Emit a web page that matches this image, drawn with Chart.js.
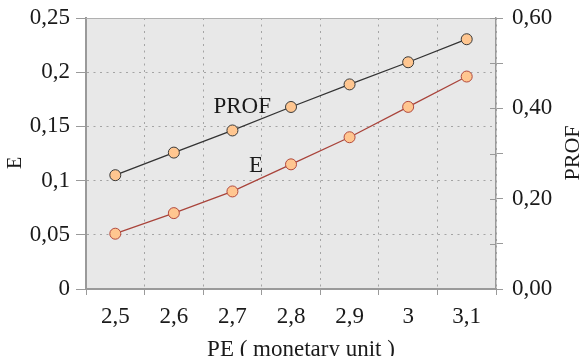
<!DOCTYPE html>
<html><head><meta charset="utf-8">
<script src="https://cdn.jsdelivr.net/npm/chart.js@4"></script>
<style>html,body{margin:0;padding:0;background:#fff;}#wrap{width:583px;height:356px;}</style>
</head><body><div id="wrap"><canvas id="c" width="583" height="356"></canvas></div>
<script>
const categories = ['2,5','2,6','2,7','2,8','2,9','3','3,1'];
const eValues = [0.051, 0.070, 0.090, 0.115, 0.140, 0.168, 0.196];
const profValues = [0.252, 0.302, 0.351, 0.403, 0.453, 0.502, 0.553];
const leftTickLabels = ['0','0,05','0,1','0,15','0,2','0,25'];
const rightTickLabels = ['0,00','','0,20','','0,40','','0,60'];
const xTitle = 'PE ( monetary unit )';
const leftTitle = 'E';
const rightTitle = 'PROF';
const seriesNames = ['E', 'PROF'];

const FONT = '"Liberation Serif", "Times New Roman", serif';
const TXT = '#1a1a1a';
const AXIS = '#9a9a9a';
const GRID = '#a4a4a4';

function noPad(s) { s.paddingTop = 0; s.paddingBottom = 0; s.paddingLeft = 0; s.paddingRight = 0; }

const decor = {
  id: 'decor',
  beforeDraw(chart) {
    const a = chart.chartArea, ctx = chart.ctx;
    ctx.save();
    ctx.fillStyle = '#e8e8e8';
    ctx.fillRect(a.left, a.top, a.right - a.left, a.bottom - a.top);
    ctx.restore();
  },
  afterDraw(chart) {
    const a = chart.chartArea, ctx = chart.ctx;
    ctx.save();
    ctx.strokeStyle = '#b0b0b0';
    ctx.lineWidth = 1;
    ctx.beginPath();
    ctx.moveTo(a.left, a.top + 0.5); ctx.lineTo(a.right, a.top + 0.5);
    ctx.stroke();
    const y1 = chart.scales.y1;
    ctx.strokeStyle = AXIS; ctx.lineWidth = 1;
    y1.ticks.forEach(t => {
      const py = Math.round(y1.getPixelForValue(t.value)) + 0.5;
      ctx.beginPath(); ctx.moveTo(a.right - 6, py); ctx.lineTo(a.right, py); ctx.stroke();
    });
    ctx.fillStyle = TXT;
    ctx.font = '23px ' + FONT;
    ctx.textAlign = 'center'; ctx.textBaseline = 'alphabetic';
    ctx.fillText(xTitle, (a.left + a.right) / 2 + 10, 356);
    ctx.save();
    ctx.font = '20px ' + FONT;
    ctx.translate(16, 163); ctx.rotate(-Math.PI / 2);
    ctx.textBaseline = 'middle';
    ctx.fillText(leftTitle, 0, 0);
    ctx.restore();
    ctx.save();
    ctx.font = '22px ' + FONT;
    ctx.translate(573, 153); ctx.rotate(-Math.PI / 2);
    ctx.textBaseline = 'middle';
    ctx.fillText(rightTitle, 0, 0);
    ctx.restore();
    const x = chart.scales.x, y = chart.scales.y;
    ctx.font = '23px ' + FONT;
    ctx.textAlign = 'right'; ctx.textBaseline = 'middle';
    ctx.fillText(seriesNames[1], x.getPixelForValue(3) - 20, y1.getPixelForValue(profValues[3]));
    ctx.fillText(seriesNames[0], x.getPixelForValue(3) - 28, y.getPixelForValue(eValues[3]) + 2);
    ctx.restore();
  }
};

new Chart(document.getElementById('c'), {
  type: 'line',
  data: {
    labels: categories,
    datasets: [
      { label: seriesNames[0], data: eValues, yAxisID: 'y',
        borderColor: '#a9443b', borderWidth: 1.3, tension: 0,
        pointRadius: 5.5, pointBorderWidth: 1, pointBackgroundColor: '#ffc690', pointBorderColor: '#b34a3e' },
      { label: seriesNames[1], data: profValues, yAxisID: 'y1',
        borderColor: '#333333', borderWidth: 1.3, tension: 0,
        pointRadius: 5.5, pointBorderWidth: 1, pointBackgroundColor: '#ffc690', pointBorderColor: '#3a3a3a' }
    ]
  },
  options: {
    responsive: false, animation: false, devicePixelRatio: 1,
    layout: { padding: { top: 18, left: 0, right: 0, bottom: 0 } },
    plugins: { legend: { display: false }, tooltip: { enabled: false } },
    scales: {
      x: {
        offset: true,
        grid: { offset: true, color: GRID, lineWidth: 1, tickLength: 6, tickColor: AXIS, tickBorderDash: [] },
        border: { color: AXIS, width: 2, dash: [2, 4.5] },
        ticks: { color: TXT, font: { family: FONT, size: 23 }, padding: 8, maxRotation: 0, autoSkip: false },
        afterFit(s) { s.height = 67; noPad(s); }
      },
      y: {
        position: 'left', min: 0, max: 0.25,
        grid: { color: GRID, lineWidth: 1, tickLength: 10, tickColor: AXIS, tickBorderDash: [] },
        border: { color: AXIS, width: 2, dash: [2, 4.5] },
        ticks: { stepSize: 0.05, color: TXT, font: { family: FONT, size: 23 }, padding: 6,
                 callback: (v, i) => leftTickLabels[i] },
        afterFit(s) { s.width = 86; noPad(s); }
      },
      y1: {
        position: 'right', min: 0, max: 0.6,
        grid: { drawOnChartArea: false, color: AXIS, tickLength: 7, tickColor: AXIS },
        border: { color: AXIS, width: 1.5 },
        ticks: { stepSize: 0.1, color: TXT, font: { family: FONT, size: 23 }, padding: 9,
                 callback: (v, i) => rightTickLabels[i] },
        afterFit(s) { s.width = 87; noPad(s); }
      }
    }
  },
  plugins: [decor]
});
</script>
</body></html>
